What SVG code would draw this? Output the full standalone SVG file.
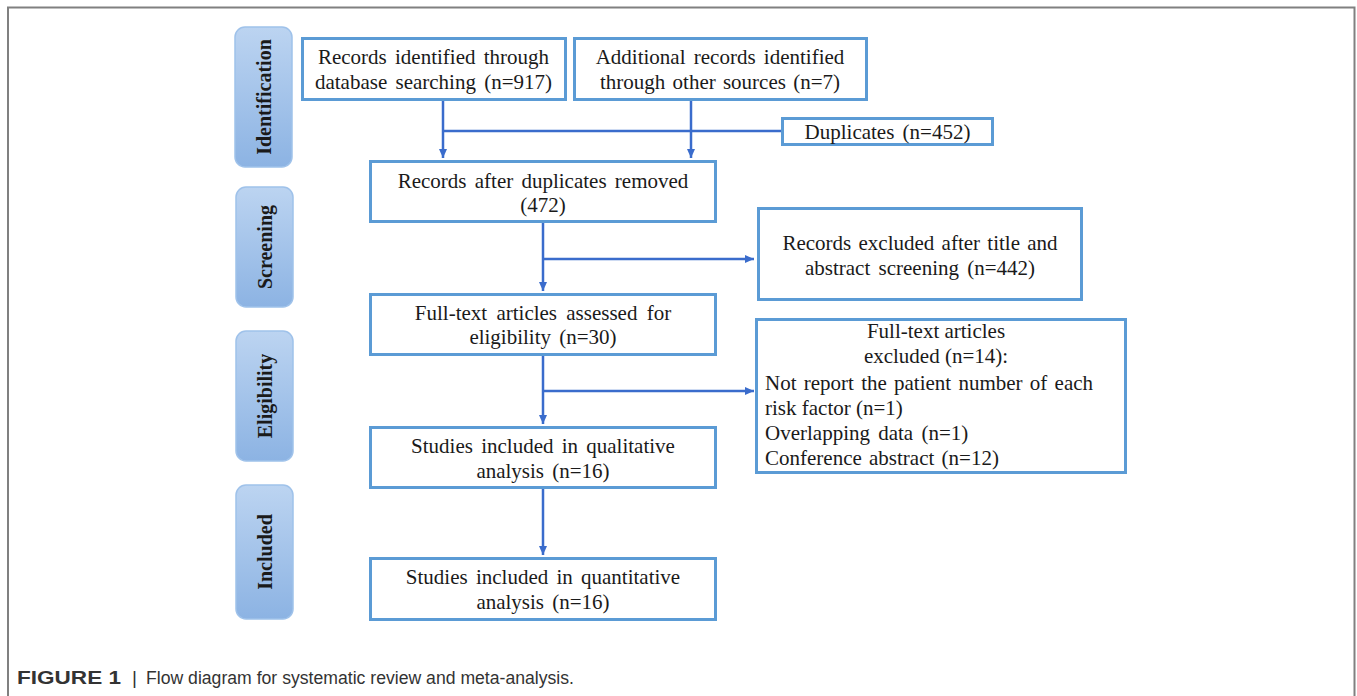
<svg xmlns="http://www.w3.org/2000/svg" width="1357" height="696" viewBox="0 0 1357 696">
<defs>
<linearGradient id="stageGrad" x1="0" y1="0" x2="0" y2="1">
<stop offset="0" stop-color="#bcd4f1"/>
<stop offset="1" stop-color="#8cb3e3"/>
</linearGradient>
<marker id="arr" markerWidth="10" markerHeight="10" refX="9" refY="5" orient="auto" markerUnits="userSpaceOnUse">
<path d="M0,1 L9,5 L0,9 Z" fill="#3a6ccc"/>
</marker>
<style>
.stage{fill:url(#stageGrad);stroke:#9fc2ea;stroke-width:1.5}
.stxt{font-family:"Liberation Serif","Times New Roman",serif;font-weight:bold;font-size:20px;fill:#1a1a1a;text-anchor:middle;dominant-baseline:central}
.box{fill:#fff;stroke:#5b9bd5;stroke-width:3}
.t{font-family:"Liberation Serif","Times New Roman",serif;font-size:21px;fill:#1a1a1a;text-anchor:middle}
.tl{font-family:"Liberation Serif","Times New Roman",serif;font-size:21px;fill:#1a1a1a}
.c{fill:none;stroke:#3a6ccc;stroke-width:2.5}
.cap{font-family:"Liberation Sans",Arial,sans-serif;font-size:17.5px;fill:#333}
</style>
</defs>
<rect width="1357" height="696" fill="#fff"/>
<path d="M8,696 V7.5 H1354.5 V696" fill="none" stroke="#808080" stroke-width="2"/>

<g id="stage-identification"><rect class="stage" x="235" y="27" width="57" height="140" rx="10"/><text class="stxt" transform="translate(264,97) rotate(-90)">Identification</text></g>
<g id="stage-screening"><rect class="stage" x="236" y="187" width="57" height="120" rx="10"/><text class="stxt" transform="translate(265,247) rotate(-90)">Screening</text></g>
<g id="stage-eligibility"><rect class="stage" x="236" y="331" width="57" height="130" rx="10"/><text class="stxt" transform="translate(265,396) rotate(-90)">Eligibility</text></g>
<g id="stage-included"><rect class="stage" x="236" y="485" width="57" height="134" rx="10"/><text class="stxt" transform="translate(265,552) rotate(-90)">Included</text></g>

<g id="connectors">
<path class="c" d="M443,101 V158" marker-end="url(#arr)"/>
<path class="c" d="M691,101 V158" marker-end="url(#arr)"/>
<path class="c" d="M443,131 H781"/>
<path class="c" d="M543,223 V291" marker-end="url(#arr)"/>
<path class="c" d="M543,259 H754" marker-end="url(#arr)"/>
<path class="c" d="M543,356 V424" marker-end="url(#arr)"/>
<path class="c" d="M543,391 H754" marker-end="url(#arr)"/>
<path class="c" d="M543,488 V555" marker-end="url(#arr)"/>
</g>

<g id="node-db"><rect class="box" x="302.5" y="38.5" width="263" height="61"/><text class="t" x="433.5" y="64" word-spacing="3">Records identified through</text><text class="t" x="433.5" y="89" word-spacing="3">database searching (n=917)</text></g>
<g id="node-other"><rect class="box" x="574.5" y="38.5" width="292" height="61"/><text class="t" x="720" y="64" word-spacing="3">Additional records identified</text><text class="t" x="720" y="89" word-spacing="2">through other sources (n=7)</text></g>
<g id="node-dup"><rect class="box" x="782.5" y="118.5" width="210" height="26"/><text class="t" x="887.5" y="139" word-spacing="3">Duplicates (n=452)</text></g>
<g id="node-after"><rect class="box" x="370.5" y="161.5" width="345" height="60"/><text class="t" x="543" y="188" word-spacing="3">Records after duplicates removed</text><text class="t" x="543" y="212">(472)</text></g>
<g id="node-excl1"><rect class="box" x="758.5" y="208.5" width="323" height="91"/><text class="t" x="920" y="250" word-spacing="2">Records excluded after title and</text><text class="t" x="920" y="275" word-spacing="3">abstract screening (n=442)</text></g>
<g id="node-full"><rect class="box" x="370.5" y="294.5" width="345" height="60"/><text class="t" x="543" y="320" word-spacing="4">Full-text articles assessed for</text><text class="t" x="543" y="344" word-spacing="3">eligibility (n=30)</text></g>
<g id="node-excl2"><rect class="box" x="756.5" y="319.5" width="369" height="153"/>
<text class="t" x="936" y="338">Full-text articles</text>
<text class="t" x="936" y="363">excluded (n=14):</text>
<text class="tl" x="765" y="390" word-spacing="2">Not report the patient number of each</text>
<text class="tl" x="765" y="415">risk factor (n=1)</text>
<text class="tl" x="765" y="440" word-spacing="3">Overlapping data (n=1)</text>
<text class="tl" x="765" y="465" word-spacing="2">Conference abstract (n=12)</text>
</g>
<g id="node-qual"><rect class="box" x="370.5" y="427.5" width="345" height="60"/><text class="t" x="543" y="453" word-spacing="3">Studies included in qualitative</text><text class="t" x="543" y="478" word-spacing="3">analysis (n=16)</text></g>
<g id="node-quant"><rect class="box" x="370.5" y="558.5" width="345" height="61"/><text class="t" x="543" y="584" word-spacing="3">Studies included in quantitative</text><text class="t" x="543" y="609" word-spacing="3">analysis (n=16)</text></g>

<text class="cap" y="684"><tspan x="17" font-weight="bold" font-size="19" textLength="104" lengthAdjust="spacingAndGlyphs">FIGURE 1</tspan><tspan x="132" font-size="19">|</tspan><tspan x="146" textLength="428" lengthAdjust="spacingAndGlyphs">Flow diagram for systematic review and meta-analysis.</tspan></text>
</svg>
